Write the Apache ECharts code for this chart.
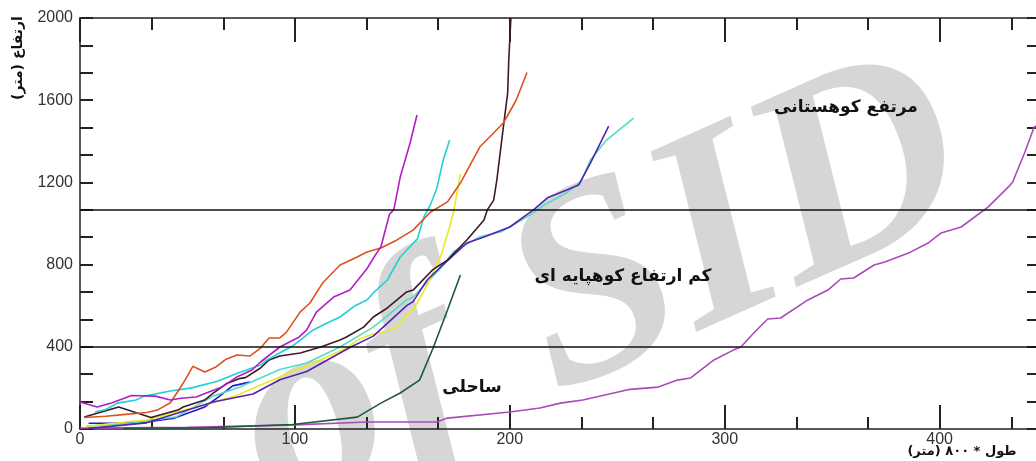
<!DOCTYPE html>
<html><head><meta charset="utf-8">
<script src="https://cdn.jsdelivr.net/npm/echarts@6/dist/echarts.min.js"></script>
<style>html,body{margin:0;padding:0;background:#fff}#c{width:1036px;height:461px}</style>
</head><body><div id="c"></div>
<script>
// ---- data ----
const xTickLabels = [0, 100, 200, 300, 400];
const yTickLabels = [0, 400, 800, 1200, 1600, 2000];
const zoneLines = [400, 1066];
const zoneNames = ['مرتفع کوهستانی', 'کم ارتفاع کوهپایه ای', 'ساحلی'];
const xName = '\u200Fطول * ۸۰۰ (متر)\u200F';
const yName = '\u200Fارتفاع (متر)\u200F';

const magenta = [[0,131],[8,107],[15,128],[24,163],[35,160],[42,141],[47,150],[54,156],[60,180],[66,204],[73,253],[80,287],[84,326],[93,399],[102,448],[105.5,482],[110,569],[118,642],[125.6,676],[133.5,780],[138,856],[140,886],[144,1045],[146,1066],[149,1226],[153.6,1392],[156.8,1528]];
const orange = [[2,56],[12,62],[20,70],[31,80],[36,92],[42,128],[46,190],[49,240],[52.5,305],[58,277],[63,300],[68,340],[73,360],[79,355],[84,394],[88,443],[93,443],[96,470],[102.5,570],[107,613],[113,712],[121,798],[129,837],[133.5,861],[140,881],[147.5,920],[155,968],[163,1055],[171,1105],[177,1197],[186,1372],[197,1489],[203,1601],[208,1735]];
const cyan = [[7,83],[12,95],[17.5,126],[26,141],[30,160],[42,185],[52,200],[64,232],[73.5,272],[77.5,287],[84,311],[87,336],[99,405],[108.5,482],[115,516],[121,545],[128,600],[133.5,628],[136.5,662],[143,725],[149,837],[157,925],[160,1032],[163,1090],[166,1170],[169,1309],[172,1406]];
const yellow = [[3,12],[22,35],[31,44],[42,75],[54,107],[61,125],[73.5,165],[77.5,185],[90,240],[101,290],[105.5,305],[124,394],[129,433],[136.5,462],[143,476],[147.5,496],[152,555],[155,579],[161.5,700],[168,845],[172,983],[174,1066],[177,1240]];
const aqua = [[3,14],[25,30],[45,60],[62,160],[74.4,204],[93,290],[105.5,321],[121,399],[136.5,496],[140,525],[152,628],[155,642],[168,785],[174,865],[186,935],[196,960],[208,1032],[216,1090],[226.5,1150],[233,1202],[237.5,1309],[245,1406],[257.6,1513]];
const indigo = [[4,3],[31,30],[62,131],[80.5,170],[93,240],[105.5,280],[126,399],[136.5,452],[152,600],[155,620],[161.5,725],[169,800],[180,905],[188,934],[200,983],[211,1066],[217.5,1125],[226.5,1163],[232,1187],[237.5,1294],[246,1474]];
const maroon = [[2,58],[18,107],[33,56],[45.5,92],[48,107],[58,141],[62,175],[68,220],[74,245],[77,250],[84,297],[88,336],[93,355],[102.5,370],[112,399],[121,433],[124,448],[132,496],[136.5,545],[143,589],[152,667],[155,676],[164,774],[171,822],[180,920],[188,1017],[189.5,1066],[192.5,1114],[194,1215],[197,1470],[199,1635],[199.5,1796],[200.5,2000]];
const green = [[20,2],[60,6],[99,22],[129,58],[140,126],[149,175],[158,238],[164.5,399],[171,579],[177,749]];
const orchid = [[0,5],[50,8],[100,20],[133.5,34],[166,34],[171,53],[200,83],[214,102],[223.5,126],[234,141],[256,193],[269,204],[278,238],[284,248],[295,336],[304,384],[307.5,399],[313.5,467],[320,535],[326,540],[338.7,628],[348,676],[354,730],[360,735],[369.5,798],[374.5,813],[385.5,856],[394.6,905],[400.7,954],[410,983],[422.5,1080],[432,1178],[434,1202],[439.5,1343],[444,1470],[446,1480]];
const blue = [[4,28],[15,28],[30,33],[44,53],[58,107],[65,160],[71,210],[79,228]];

const XMAX = 446.7, YMAX = 2000;

const chart = echarts.init(document.getElementById('c'), null, {renderer: 'canvas'});
const ink = '#222';
function mkX(pos, interval, len, showLine, showLabel) {
  return {
    type: 'value', position: pos, min: 0, max: XMAX, interval: interval,
    axisLine: {show: showLine, onZero: false, lineStyle: {color: ink, width: 1.5}},
    axisTick: {show: true, inside: true, length: len, lineStyle: {color: ink, width: 2}},
    splitLine: {show: false},
    axisLabel: showLabel ? {
      show: true, margin: 3, fontSize: 16, color: '#333', fontFamily: 'Liberation Sans',
      formatter: v => xTickLabels.some(t => Math.abs(t - v) < 1e-6) ? String(Math.round(v)) : ''
    } : {show: false}
  };
}
function mkY(pos, showLabel) {
  return {
    type: 'value', position: pos, min: 0, max: YMAX, interval: 400,
    axisLine: {show: true, onZero: false, lineStyle: {color: ink, width: 1.5}},
    axisTick: {show: true, inside: true, length: 13, lineStyle: {color: ink, width: 2}},
    minorTick: {show: true, splitNumber: 3, length: 13, lineStyle: {color: ink, width: 2}},
    splitLine: {show: false}, minorSplitLine: {show: false},
    axisLabel: showLabel ? {
      show: true, margin: 7, fontSize: 16, color: '#333', fontFamily: 'Liberation Sans',
      formatter: v => yTickLabels.some(t => Math.abs(t - v) < 1e-6) ? String(Math.round(v)) : ''
    } : {show: false}
  };
}
const lines = [
  ['orchid', orchid, '#a94bb9'],
  ['green', green, '#1f5a3c'],
  ['blue', blue, '#1c1cd6'],
  ['aqua', aqua, '#52dcc0'],
  ['yellow', yellow, '#ece81c'],
  ['indigo', indigo, '#5522b4'],
  ['maroon', maroon, '#3c1a2e'],
  ['cyan', cyan, '#22d0d4'],
  ['orange', orange, '#de521f'],
  ['magenta', magenta, '#b31ec4']
];
const series = lines.map(([n, d, c]) => ({
  name: n, type: 'line', data: d, xAxisIndex: 0, yAxisIndex: 0,
  showSymbol: false, symbol: 'none', smooth: false, silent: true,
  lineStyle: {color: c, width: 1.6}, z: 3
}));
series.push({
  name: 'zones', type: 'line', data: [], xAxisIndex: 0, yAxisIndex: 0,
  markLine: {silent: true, symbol: ['none', 'none'], animation: false,
    label: {show: false}, lineStyle: {color: '#111', type: 'solid', width: 1.5},
    data: zoneLines.map(v => ({yAxis: v}))}
});
const font = '"DejaVu Sans", "Noto Sans", sans-serif';
chart.setOption({
  animation: false,
  backgroundColor: '#fff',
  grid: {left: 80, top: 18, width: 960, height: 411, outerBoundsMode: 'none', containLabel: false},
  xAxis: [mkX('bottom', 100, 24, true, true), mkX('top', 100, 24, true, false),
          mkX('bottom', 100/3, 12, false, false), mkX('top', 100/3, 12, false, false)],
  yAxis: [mkY('left', true), mkY('right', false)],
  series: series,
  graphic: [
    {type: 'text', x: 250, y: 452, rotation: 0.42, z: -1, silent: true,
     style: {text: 'of SID', font: 'italic bold 280px "Liberation Serif"', fill: '#d6d6d6', align: 'left', verticalAlign: 'middle'}},
    {type: 'text', x: 846, y: 108, z: 10, silent: true,
     style: {text: zoneNames[0], font: 'bold 17px ' + font, fill: '#111', align: 'center', verticalAlign: 'middle'}},
    {type: 'text', x: 623, y: 277, z: 10, silent: true,
     style: {text: zoneNames[1], font: 'bold 17px ' + font, fill: '#111', align: 'center', verticalAlign: 'middle'}},
    {type: 'text', x: 472, y: 388, z: 10, silent: true,
     style: {text: zoneNames[2], font: 'bold 17px ' + font, fill: '#111', align: 'center', verticalAlign: 'middle'}},
    {type: 'text', x: 18, y: 58, rotation: Math.PI / 2, z: 10, silent: true,
     style: {text: yName, font: 'bold 14px ' + font, fill: '#111', align: 'center', verticalAlign: 'middle'}},
    {type: 'text', x: 962, y: 452, z: 10, silent: true,
     style: {text: xName, font: 'bold 13px ' + font, fill: '#111', align: 'center', verticalAlign: 'middle'}}
  ]
});
</script></body></html>
